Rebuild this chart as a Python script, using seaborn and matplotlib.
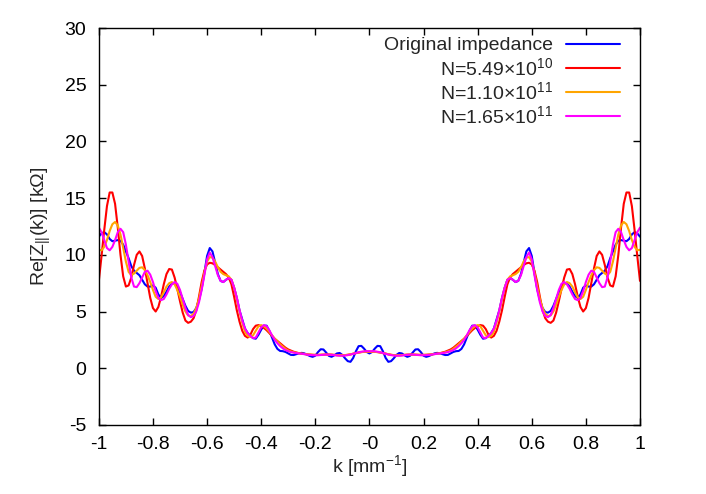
import numpy as np
import pandas as pd
import matplotlib
matplotlib.use("Agg")
import matplotlib.pyplot as plt
from matplotlib.ticker import FuncFormatter
import seaborn as sns

# half of the curve (k >= 0); the plotted impedance is symmetric in k
k_half = np.round(np.arange(0, 101) * 0.01, 2)

original = [
    1.30, 1.43, 1.73, 1.97, 1.94, 1.49, 0.90, 0.56, 0.62, 0.87,
    1.17, 1.34, 1.30, 1.13, 1.00, 1.09, 1.38, 1.65, 1.67, 1.42,
    1.10, 1.00, 1.07, 1.19, 1.30, 1.35, 1.31, 1.23, 1.16, 1.17,
    1.30, 1.43, 1.50, 1.52, 1.70, 2.10, 2.70, 3.30, 3.75, 3.75,
    3.40, 2.95, 2.60, 2.65, 2.85, 3.10, 3.50, 4.30, 5.10, 6.20,
    7.10, 7.80, 7.95, 7.80, 7.60, 7.70, 8.30, 9.30, 10.3, 10.6,
    9.90, 8.40, 7.00, 6.00, 5.30, 4.95, 4.90, 5.05, 5.50, 6.10,
    6.70, 7.20, 7.50, 7.45, 7.20, 6.75, 6.35, 6.20, 6.50, 7.10,
    7.30, 7.20, 7.20, 7.40, 7.80, 8.20, 8.40, 8.60, 9.00, 9.70,
    10.3, 10.9, 11.25, 11.3, 11.25, 11.2, 11.4, 11.8, 12.0, 11.9,
    11.6,
]

n_549e10 = [
    1.45, 1.45, 1.44, 1.42, 1.38, 1.33, 1.28, 1.22, 1.18, 1.15,
    1.14, 1.14, 1.15, 1.17, 1.19, 1.20, 1.20, 1.19, 1.18, 1.17,
    1.17, 1.18, 1.20, 1.22, 1.25, 1.28, 1.32, 1.38, 1.45, 1.55,
    1.65, 1.80, 2.00, 2.20, 2.40, 2.60, 2.85, 3.10, 3.35, 3.55,
    3.70, 3.80, 3.75, 3.45, 2.95, 2.70, 2.85, 3.30, 4.10, 5.10,
    6.30, 7.40, 8.00, 8.30, 8.50, 8.70, 8.90, 9.10, 9.25, 9.30,
    9.15, 8.60, 7.60, 6.30, 5.10, 4.40, 4.10, 4.00, 4.20, 4.90,
    5.90, 7.00, 8.00, 8.70, 8.75, 8.30, 7.40, 6.30, 5.40, 5.00,
    5.30, 6.20, 7.50, 8.80, 9.90, 10.3, 10.0, 9.10, 8.00, 7.30,
    7.20, 8.10, 10.0, 12.4, 14.5, 15.5, 15.5, 14.3, 12.2, 9.90,
    7.70,
]

n_110e11 = [
    1.45, 1.45, 1.44, 1.42, 1.38, 1.33, 1.28, 1.22, 1.18, 1.15,
    1.14, 1.14, 1.15, 1.17, 1.19, 1.20, 1.20, 1.19, 1.18, 1.17,
    1.17, 1.18, 1.20, 1.22, 1.25, 1.28, 1.31, 1.35, 1.40, 1.47,
    1.55, 1.70, 1.90, 2.10, 2.35, 2.60, 2.90, 3.20, 3.50, 3.70,
    3.80, 3.70, 3.30, 2.90, 2.75, 2.85, 3.20, 4.00, 5.00, 6.10,
    7.10, 7.80, 8.10, 8.20, 8.30, 8.50, 8.90, 9.40, 9.75, 9.80,
    9.40, 8.40, 7.20, 6.10, 5.30, 4.80, 4.60, 4.65, 5.00, 5.60,
    6.30, 6.90, 7.40, 7.60, 7.50, 7.20, 6.70, 6.25, 6.10, 6.30,
    6.90, 7.60, 8.20, 8.65, 8.90, 8.85, 8.60, 8.35, 8.20, 8.50,
    9.40, 10.6, 11.8, 12.6, 12.9, 12.7, 12.1, 11.3, 10.7, 10.4,
    10.45,
]

n_165e11 = [
    1.50, 1.50, 1.48, 1.45, 1.40, 1.33, 1.26, 1.20, 1.15, 1.12,
    1.10, 1.10, 1.12, 1.15, 1.18, 1.20, 1.20, 1.18, 1.16, 1.14,
    1.14, 1.15, 1.17, 1.20, 1.23, 1.27, 1.30, 1.33, 1.37, 1.42,
    1.50, 1.60, 1.75, 1.95, 2.20, 2.50, 2.90, 3.35, 3.70, 3.80,
    3.60, 3.15, 2.70, 2.65, 2.85, 3.10, 3.50, 4.20, 5.10, 6.20,
    7.10, 7.80, 7.95, 7.80, 7.60, 7.70, 8.20, 9.00, 9.80, 10.2,
    9.60, 8.20, 6.90, 5.80, 5.00, 4.60, 4.50, 4.70, 5.30, 6.10,
    6.90, 7.45, 7.60, 7.40, 7.00, 6.50, 6.10, 6.00, 6.20, 6.80,
    7.60, 8.25, 8.60, 8.50, 8.00, 7.50, 7.15, 7.20, 8.00, 9.40,
    10.9, 12.0, 12.3, 12.0, 11.3, 10.7, 10.4, 10.6, 11.3, 12.0,
    12.4,
]

labels = [
    "Original impedance",
    r"N=5.49×10$^{10}$",
    r"N=1.10×10$^{11}$",
    r"N=1.65×10$^{11}$",
]
colors = ["#0000ff", "#ff0000", "#ffa500", "#ff00ff"]
series = [original, n_549e10, n_110e11, n_165e11]

sns.set_theme(style="ticks")
plt.rcParams["font.family"] = ["Liberation Sans", "DejaVu Sans"]
plt.rcParams["mathtext.fontset"] = "custom"
plt.rcParams["mathtext.rm"] = "Liberation Sans"
plt.rcParams["mathtext.it"] = "Liberation Sans"
plt.rcParams["mathtext.default"] = "regular"
plt.rcParams["axes.unicode_minus"] = False

fig = plt.figure(figsize=(7.06, 4.94), dpi=100)
ax = fig.add_axes([0.140, 0.140, 0.7665, 0.803])

k_full = np.concatenate([-k_half[::-1], k_half[1:]])
for vals, lab, col in zip(series, labels, colors):
    v = np.asarray(vals)
    df = pd.DataFrame({"k": k_full, "Z": np.concatenate([v[::-1], v[1:]])})
    sns.lineplot(data=df, x="k", y="Z", color=col, lw=1.5, label=lab, ax=ax)

ax.set_xlim(-1, 1)
ax.set_ylim(-5, 30)
ax.set_xticks(np.round(np.arange(-1, 1.01, 0.2), 1))
ax.set_yticks(np.arange(-5, 31, 5))
ax.xaxis.set_major_formatter(FuncFormatter(lambda v, p: "%g" % v))
ax.tick_params(direction="in", length=5, width=1, top=True, right=True,
               labelsize=14, colors="black")
ax.tick_params(axis="x", pad=8)
ax.tick_params(axis="y", pad=9)
for s in ax.spines.values():
    s.set_linewidth(1)
    s.set_color("black")

ax.set_xlabel(r"k [mm$^{-1}$]", fontsize=14, labelpad=0)
ax.set_ylabel(r"Re[Z$_{||}$(k)] [kΩ]", fontsize=14, labelpad=8)

leg = ax.legend(loc="upper right", bbox_to_anchor=(0.963, 0.978), frameon=False,
                markerfirst=False, fontsize=14, handlelength=2.75,
                handletextpad=0.7, labelspacing=0.12, borderpad=0, borderaxespad=0)

fig.savefig("out.png", dpi=100)
